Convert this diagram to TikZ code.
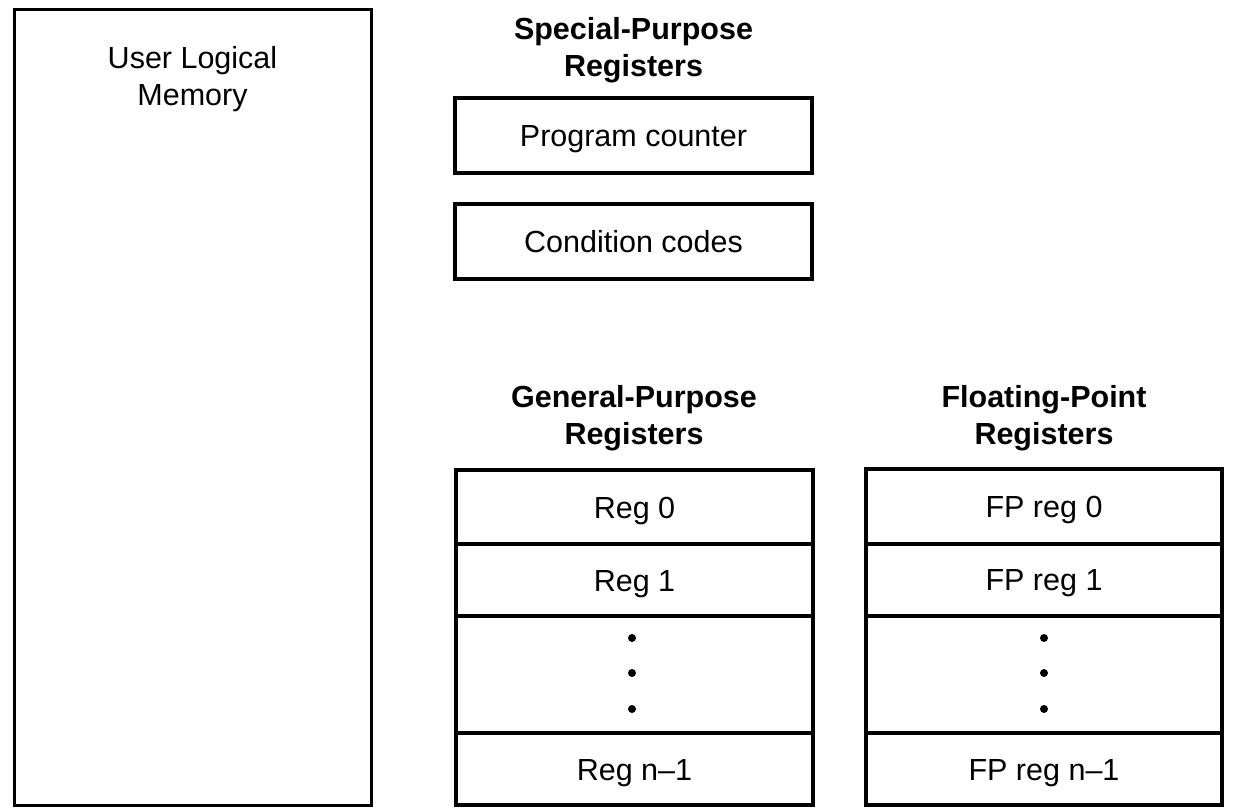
\documentclass[tikz,border=0pt]{standalone}
\usepackage{fontspec}
\setmainfont{Liberation Sans}
\begin{document}
\begin{tikzpicture}[x=1pt,y=-1pt,
  box/.style={draw, line width=4pt, inner sep=0pt, outer sep=0pt, align=center,
    text height=22pt, text depth=0pt, font=\fontsize{30.5}{37}\selectfont},
  lbl/.style={align=center, inner sep=0pt, font=\fontsize{30.5}{37}\selectfont},
  head/.style={align=center, inner sep=0pt, font=\fontsize{30.5}{37}\selectfont\bfseries},
  dotmark/.style={circle, fill, inner sep=0pt, minimum size=8pt}]
\useasboundingbox (0,0) rectangle (1256,808);
% user logical memory
\node[draw, line width=3pt, inner sep=0pt, minimum width=357pt, minimum height=795pt] (mem) at (192.5,407.5) {};
\node[lbl] (memlbl) at (192.5,79) {User Logical\\Memory};
% special purpose
\node[head] (sphead) at (633.5,50) {Special-Purpose\\Registers};
\node[box, minimum width=357pt, minimum height=75pt] (pc) at (633.5,135.5) {Program counter};
\node[box, minimum width=357pt, minimum height=75pt] (cc) at (633.5,241.5) {Condition codes};
% general purpose
\node[head] (gphead) at (634,418) {General-Purpose\\Registers};
\node[box, minimum width=357pt, minimum height=74pt] (r0) at (634.5,507) {Reg 0};
\node[box, minimum width=357pt, minimum height=72pt] (r1) at (634.5,580) {Reg 1};
\node[box, minimum width=357pt, minimum height=117pt] (rd) at (634.5,674.5) {};
\node[box, minimum width=357pt, minimum height=72pt] (rn) at (634.5,769) {Reg n\textendash1};
\node[dotmark] (gd1) at (632,638) {};
\node[dotmark] (gd2) at (632,673) {};
\node[dotmark] (gd3) at (632,709) {};
% floating point
\node[head] (fphead) at (1044,418) {Floating-Point\\Registers};
\node[box, minimum width=356pt, minimum height=75pt] (f0) at (1044,506) {FP reg 0};
\node[box, minimum width=356pt, minimum height=72pt] (f1) at (1044,579.5) {FP reg 1};
\node[box, minimum width=356pt, minimum height=117pt] (fd) at (1044,674.5) {};
\node[box, minimum width=356pt, minimum height=72pt] (fn) at (1044,769) {FP reg n\textendash1};
\node[dotmark] (fd1) at (1044,638) {};
\node[dotmark] (fd2) at (1044,673) {};
\node[dotmark] (fd3) at (1044,709) {};
\end{tikzpicture}
\end{document}
